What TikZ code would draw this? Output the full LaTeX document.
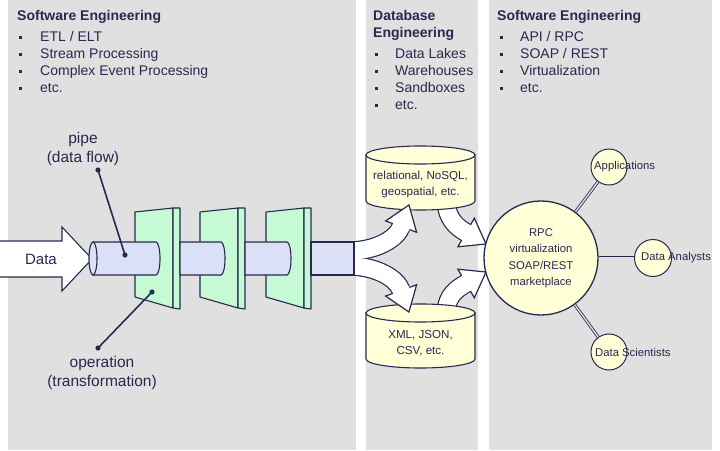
\documentclass[tikz,border=0pt]{standalone}
\usepackage{fontspec}
\setmainfont{Liberation Sans}
\usetikzlibrary{positioning, calc, arrows.meta}

\definecolor{panel}{HTML}{E0E0E0}
\definecolor{ink}{HTML}{262A4E}
\definecolor{dbfill}{HTML}{FFFFD8}
\definecolor{pipefill}{HTML}{DCE0F6}
\definecolor{platefill}{HTML}{C6FAD4}

\begin{document}
\begin{tikzpicture}[
    x=1pt, y=1pt,
    paneltitle/.style={font=\bfseries\fontsize{14}{17}\selectfont, text=ink, inner sep=0pt, anchor=base west},
    bullettext/.style={font=\fontsize{14}{17}\selectfont, text=ink, inner sep=0pt, anchor=base west},
    lbl/.style={font=\fontsize{15.5}{19}\selectfont, text=ink, align=center, inner sep=0pt},
    dbstyle/.style={draw=ink, fill=dbfill, line width=1.1pt},
    dbtext/.style={font=\fontsize{11.6}{16}\selectfont, text=ink, align=center, inner sep=0pt},
    pipestyle/.style={draw=ink, fill=pipefill, line width=1.1pt},
    platestyle/.style={draw=ink, fill=platefill, line width=1.1pt, line join=round},
    leader/.style={draw=ink, line width=1.6pt},
    bandedge/.style={draw=ink, line width=19.4pt},
    bandbody/.style={draw=white, line width=17pt},
    headstyle/.style={draw=ink, fill=white, line width=1.2pt, line join=miter},
    hub/.style={circle, draw=ink, fill=dbfill, line width=1.3pt, minimum size=114pt, inner sep=0pt, align=center, text=ink, font=\fontsize{11.3}{16.5}\selectfont},
    sat/.style={circle, draw=ink, fill=dbfill, line width=1pt, minimum size=36pt, inner sep=0pt},
    satlbl/.style={font=\fontsize{11.3}{14}\selectfont, text=ink, inner sep=0pt, anchor=west},
    link/.style={draw=ink, line width=0.8pt, double=white!85!ink, double distance=1.4pt}
]
\useasboundingbox (0,0) rectangle (720,450);

% panels
\fill[panel] (8,0) rectangle (356,450);
\fill[panel] (366,0) rectangle (478,450);
\fill[panel] (489,0) rectangle (712,450);

% panel texts
\node[paneltitle] (swtitle) at (17,429.5) {Software Engineering};
\foreach \lbl [count=\i] in {ETL / ELT, Stream Processing, Complex Event Processing, etc.}{
  \node[bullettext] (sw\i) at (40,425-17*\i) {\lbl};
  \fill[ink] (19,427.6-17*\i) rectangle ++(2.6,3);
}
\node[paneltitle] (dbtitle) at (373,429.5) {Database};
\node[paneltitle] (dbtitleb) at (373,412.5) {Engineering};
\foreach \lbl [count=\i] in {Data Lakes, Warehouses, Sandboxes, etc.}{
  \node[bullettext] (db\i) at (395,408-17*\i) {\lbl};
  \fill[ink] (375,410.6-17*\i) rectangle ++(2.6,3);
}
\node[paneltitle] (apititle) at (497,429.5) {Software Engineering};
\foreach \lbl [count=\i] in {API / RPC, SOAP / REST, Virtualization, etc.}{
  \node[bullettext] (api\i) at (520,425-17*\i) {\lbl};
  \fill[ink] (500,427.6-17*\i) rectangle ++(2.6,3);
}

% data arrow
\filldraw[draw=ink, fill=white, line width=1.1pt] (0,173) -- (62,173) -- (62,159) -- (92,191) -- (62,223) -- (62,209) -- (0,209);
\node[lbl, font=\fontsize{15}{18}\selectfont] (data) at (41,191) {Data};

% operation plates
\foreach \px in {135,200,266}{
  \filldraw[platestyle] (\px,238) -- (\px+38,242) -- (\px+38,142) -- (\px,153) -- cycle;
  \filldraw[platestyle] (\px+38,242) -- (\px+45,242) -- (\px+45,141) -- (\px+38,142) -- cycle;
}

% pipe segments
\newcommand{\drawpipe}[2]{%
  \filldraw[pipestyle] (#1,208) -- (#2,208) arc[start angle=90, end angle=-90, x radius=4pt, y radius=16.5pt] -- (#1,175) -- cycle;
}
\drawpipe{93}{156}
\drawpipe{180}{221}
\drawpipe{245}{287}
\filldraw[pipestyle] (93,191.5) ellipse [x radius=4pt, y radius=16.5pt];
\coordinate (pipeend) at (354,191.5);

% callouts
\node[lbl] (pipelbl) at (83,301.5) {pipe\\(data flow)};
\coordinate (pipetop) at (98,280);
\coordinate (pipehit) at (125,195);
\draw[leader] (pipetop) -- (pipehit);
\fill[ink] (pipetop) circle (2.6pt) (pipehit) circle (2.6pt);

\node[lbl] (oplbl) at (102,77.5) {operation\\(transformation)};
\coordinate (optop) at (98,102);
\coordinate (ophit) at (152,158);
\draw[leader] (optop) -- (ophit);
\fill[ink] (optop) circle (2.6pt) (ophit) circle (2.6pt);

% macro: white arrow head with its base centre at #1, pointing to angle #2
\newcommand{\fathead}[2]{%
  \begin{scope}[shift={(#1)}, rotate=#2]
    \filldraw[headstyle] (0,16.5) -- (23,0) -- (0,-16.5) -- cycle;
  \end{scope}
}

% arrows from the stores to the hub
\coordinate (relout) at (446,248);
\coordinate (xmlout) at (446,138);
\coordinate (hubbaseA) at (466.1,217.5);
\coordinate (hubbaseB) at (466.1,166.5);
\draw[bandedge] (relout) .. controls (447,232) and (456,223) .. (hubbaseA);
\draw[bandedge] (xmlout) .. controls (447,154) and (456,161) .. (hubbaseB);
\fathead{hubbaseA}{-30}
\fathead{hubbaseB}{30}
\draw[bandbody] (relout) .. controls (447,232) and (456,223) .. (hubbaseA) -- ($(hubbaseA)+(-30:2)$);
\draw[bandbody] (xmlout) .. controls (447,154) and (456,161) .. (hubbaseB) -- ($(hubbaseB)+(30:2)$);

% data stores
\newcommand{\drawdb}[4]{%
  \filldraw[dbstyle] (#1-54.5,#2) -- (#1-54.5,#2-46) arc[start angle=180, end angle=360, x radius=54.5pt, y radius=9pt] -- (#1+54.5,#2) -- cycle;
  \filldraw[dbstyle] (#1,#2) ellipse [x radius=54.5pt, y radius=9pt];
  \node[dbtext] (#3) at (#1,#2-30) {#4};
}
\drawdb{420.5}{295}{reldb}{relational, NoSQL,\\geospatial, etc.}
\drawdb{420.5}{137}{xmldb}{XML, JSON,\\CSV, etc.}

% fork from the pipe into the stores
\coordinate (forkA) at (350,199);
\coordinate (forkB) at (350,184);
\coordinate (relbase) at (401.1,223.4);
\coordinate (xmlbase) at (401.1,159.6);
\draw[bandedge] (forkA) .. controls (378,199.5) and (397,212) .. (relbase);
\draw[bandedge] (forkB) .. controls (378,183.5) and (397,171) .. (xmlbase);
\fathead{relbase}{70}
\fathead{xmlbase}{-70}
\draw[bandbody] (forkA) .. controls (378,199.5) and (397,212) .. (relbase) -- ($(relbase)+(70:2)$);
\draw[bandbody] (forkB) .. controls (378,183.5) and (397,171) .. (xmlbase) -- ($(xmlbase)+(-70:2)$);

% last pipe segment on top of the fork start
\filldraw[pipestyle] (311,175) rectangle (pipeend |- 0,208);

% hub and consumers
\node[hub] (hub) at (541,192) {RPC\\virtualization\\SOAP/REST\\marketplace};
\node[sat] (app) at (609,283) {};
\node[sat, minimum size=37pt] (analysts) at (653,192) {};
\node[sat] (sci) at (609,98) {};
\draw[link] (hub) -- (app);
\draw[link] (hub) -- (analysts);
\draw[link] (hub) -- (sci);
\node[satlbl] (applbl) at (594,283) {Applications};
\node[satlbl] (analystslbl) at (641,192) {Data Analysts};
\node[satlbl] (scilbl) at (595,98) {Data Scientists};

\end{tikzpicture}
\end{document}
